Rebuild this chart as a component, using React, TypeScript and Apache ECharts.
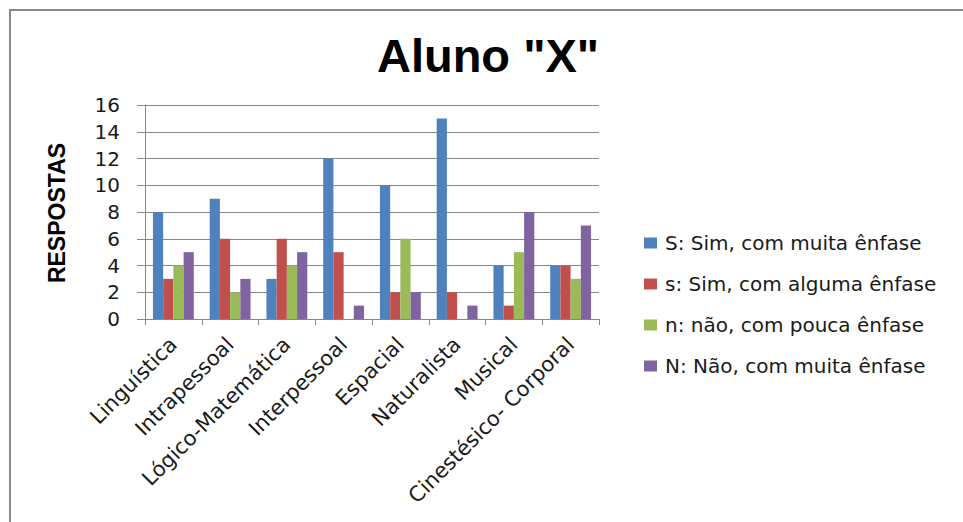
import React, { useEffect, useRef } from "react";
import * as echarts from "echarts";

const categories = [
  "Linguística",
  "Intrapessoal",
  "Lógico-Matemática",
  "Interpessoal",
  "Espacial",
  "Naturalista",
  "Musical",
  "Cinestésico- Corporal",
];
const seriesNames = [
  "S: Sim, com muita ênfase",
  "s: Sim, com alguma ênfase",
  "n: não, com pouca ênfase",
  "N: Não, com muita ênfase",
];
const simMuita = [8, 9, 3, 12, 10, 15, 4, 4];
const simAlguma = [3, 6, 6, 5, 2, 2, 1, 4];
const naoPouca = [4, 2, 4, 0, 6, 0, 5, 3];
const naoMuita = [5, 3, 5, 1, 2, 1, 8, 7];
const colors = ["#4F81BD", "#C0504D", "#9BBB59", "#8064A2"];

export default function App() {
  const ref = useRef<HTMLDivElement>(null);
  useEffect(() => {
    if (!ref.current) return;
    const chart = echarts.init(ref.current, undefined, { renderer: "svg" });
    const values = [simMuita, simAlguma, naoPouca, naoMuita];
    const gray = "#868686";
    const font = "DejaVu Sans";
    chart.setOption({
      animation: false,
      backgroundColor: "#ffffff",
      grid: { left: 145, right: 364, top: 105, bottom: 203 },
      legend: {
        orient: "vertical",
        left: 639,
        top: 227,
        itemWidth: 13,
        itemHeight: 11,
        itemGap: 19,
        icon: "rect",
        textStyle: {
          fontFamily: font,
          fontSize: 20,
          color: "#1a1a1a",
          lineHeight: 22,
          padding: [0, 0, 0, 3],
        },
        data: seriesNames,
      },
      xAxis: {
        type: "category",
        data: categories,
        axisLine: { lineStyle: { color: gray, width: 1 } },
        axisTick: { show: true, length: 6, interval: 0, lineStyle: { color: gray } },
        axisLabel: {
          interval: 0,
          rotate: 45,
          margin: 22,
          fontFamily: font,
          fontSize: 21,
          color: "#1a1a1a",
        },
        splitLine: { show: false },
      },
      yAxis: {
        type: "value",
        min: 0,
        max: 16,
        interval: 2,
        axisLine: { show: true, lineStyle: { color: gray, width: 1 } },
        axisTick: { show: true, length: 8, lineStyle: { color: gray } },
        axisLabel: {
          margin: 25,
          fontFamily: font,
          fontSize: 20,
          color: "#1a1a1a",
        },
        splitLine: { show: true, lineStyle: { color: gray, width: 1 } },
      },
      graphic: [
        {
          type: "rect",
          shape: { x: 10, y: 10, width: 1000, height: 600 },
          style: { fill: "none", stroke: "#8a8a8a", lineWidth: 2 },
          silent: true,
        },
        {
          type: "text",
          x: 488,
          y: 55,
          style: {
            text: 'Aluno "X"',
            fontFamily: "Liberation Sans",
            fontWeight: "bold",
            fontSize: 47,
            fill: "#000000",
            textAlign: "center",
            textVerticalAlign: "middle",
          },
        },
        {
          type: "text",
          x: 57,
          y: 213,
          rotation: Math.PI / 2,
          style: {
            text: "RESPOSTAS",
            fontFamily: "Liberation Sans",
            fontWeight: "bold",
            fontSize: 23,
            fill: "#000000",
            textAlign: "center",
            textVerticalAlign: "middle",
          },
        },
      ],
      series: seriesNames.map((name, i) => ({
        name,
        type: "bar",
        data: values[i],
        itemStyle: { color: colors[i] },
        barGap: "0%",
        barCategoryGap: "28%",
      })),
    });
    return () => chart.dispose();
  }, []);
  return (
    <div
      ref={ref}
      style={{ position: "fixed", left: 0, top: 0, width: 963, height: 522, background: "#fff" }}
    />
  );
}
